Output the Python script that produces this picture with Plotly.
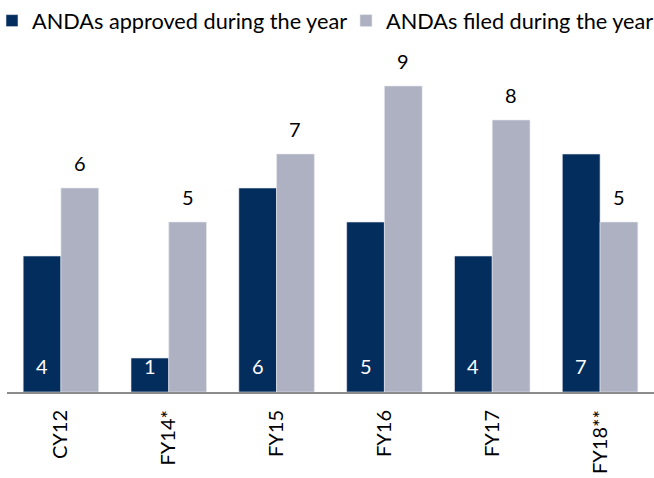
import plotly.graph_objects as go

categories = ["CY12", "FY14*", "FY15", "FY16", "FY17", "FY18**"]
approved = [4, 1, 6, 5, 4, 7]
filed = [6, 5, 7, 9, 8, 5]
series_names = ["ANDAs approved during the year", "ANDAs filed during the year"]

W, H = 654, 478
ML, MR, MT, MB = 7, 0, 52, 86
BARGAP = 0.3
FONT = "Lato, 'Liberation Sans', sans-serif"
DARK = "#022D5D"
GRAY = "#ADB1C1"

fig = go.Figure()
fig.add_bar(x=categories, y=approved, name=series_names[0], legend="legend",
            marker=dict(color=DARK, line=dict(color="#E8E8EE", width=0.6)))
fig.add_bar(x=categories, y=filed, name=series_names[1], legend="legend2",
            marker=dict(color=GRAY, line=dict(color="#E8E8EE", width=0.6)))

plot_w = W - ML - MR
plot_h = H - MT - MB
bar_w = plot_w / len(categories) * (1 - BARGAP) / 2
annotations = []
for c, a, f in zip(categories, approved, filed):
    annotations.append(dict(x=c, y=0, xref="x", yref="y", text=str(a), showarrow=False,
                            xshift=-bar_w / 2, yshift=26, yanchor="middle",
                            font=dict(family=FONT, color="white", size=20)))
    annotations.append(dict(x=c, y=f, xref="x", yref="y", text=str(f), showarrow=False,
                            xshift=bar_w / 2, yshift=11, yanchor="bottom",
                            font=dict(family=FONT, color="black", size=20)))

legend_common = dict(orientation="h", xref="paper", yref="paper",
                     y=1 + MT / plot_h, xanchor="left", yanchor="top",
                     font=dict(family=FONT, size=21.7), bgcolor="rgba(0,0,0,0)",
                     itemclick=False, itemdoubleclick=False)

fig.update_layout(
    width=W, height=H,
    margin=dict(l=ML, r=MR, t=MT, b=MB, autoexpand=False),
    paper_bgcolor="white", plot_bgcolor="white",
    barmode="group", bargap=BARGAP, bargroupgap=0,
    font=dict(family=FONT, color="black"),
    showlegend=True,
    legend=dict(x=(-8 - ML) / plot_w, **legend_common),
    legend2=dict(x=(346 - ML) / plot_w, **legend_common),
    annotations=annotations,
    xaxis=dict(showline=True, linecolor="#8C8C8C", linewidth=2, ticks="",
               tickangle=-90, tickfont=dict(family=FONT, size=20),
               ticklabelstandoff=8,
               showgrid=False, zeroline=False, automargin=False),
    yaxis=dict(visible=False, range=[0, 10], showgrid=False, zeroline=False),
)

fig.write_html("out.html", config={"displayModeBar": False},
               post_script="document.body.style.margin='0';document.body.style.overflow='hidden';")
